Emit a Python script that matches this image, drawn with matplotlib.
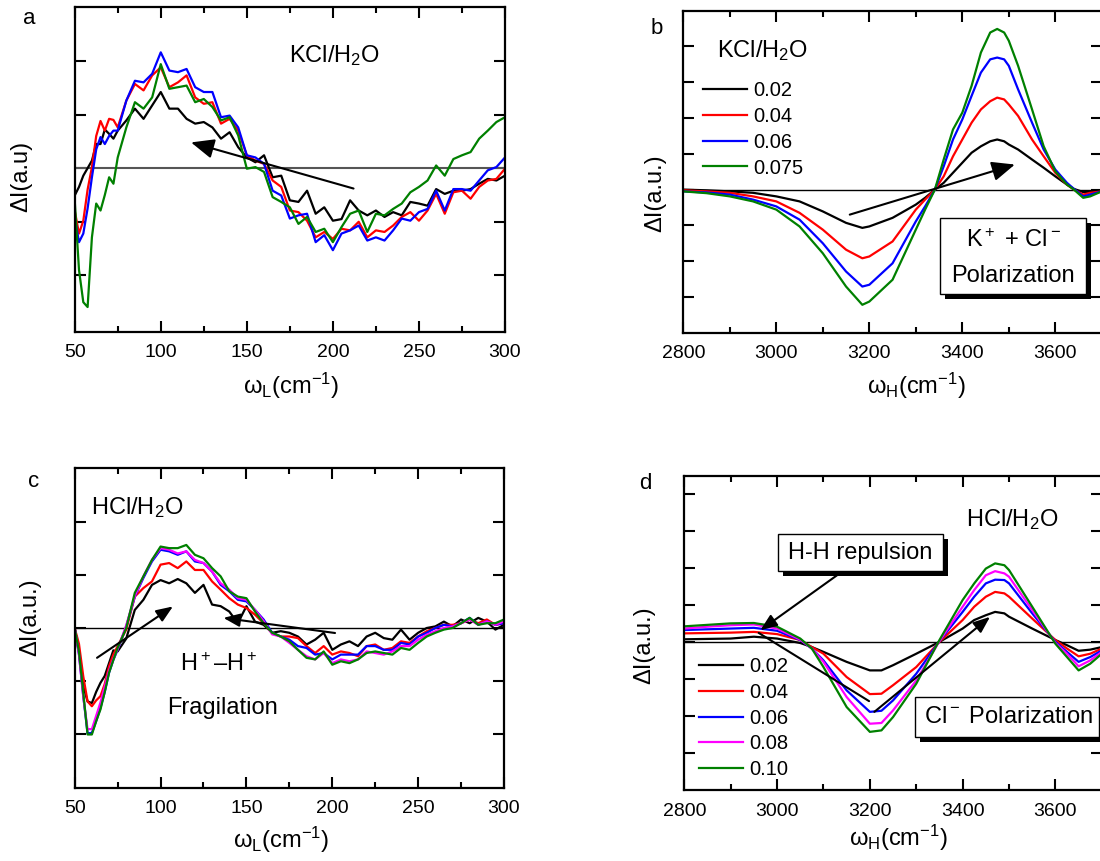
import numpy as np
import matplotlib.pyplot as plt
from matplotlib.patches import Rectangle

plt.rcParams['font.family'] = ['Liberation Sans', 'DejaVu Sans']
plt.rcParams['mathtext.fontset'] = 'custom'
plt.rcParams['mathtext.rm'] = 'Liberation Sans'
plt.rcParams['mathtext.it'] = 'Liberation Sans:italic'
plt.rcParams['mathtext.bf'] = 'Liberation Sans:bold'

# ---- data (arbitrary units = one y tick step) ----
x_low = [50, 52.5, 55, 57.5, 60, 62.5, 65, 67.5, 70, 72.5, 75,
         80, 85, 90, 95, 100, 105, 110, 115, 120, 125, 130, 135, 140, 145,
         150, 155, 160, 165, 170, 175, 180, 185, 190, 195, 200, 205, 210,
         215, 220, 225, 230, 235, 240, 245, 250, 255, 260, 265, 270, 275,
         280, 285, 290, 295, 300]

kcl_low_002 = [-0.51, -0.35, -0.14, 0.0, 0.14, 0.45, 0.45, 0.72, 0.64, 0.55, 0.70,
               0.89, 1.11, 0.92, 1.17, 1.42, 1.11, 1.11, 0.92, 0.83, 0.86, 0.76, 0.55, 0.67, 0.39,
               0.20, 0.11, 0.24, -0.17, -0.14,
               -0.60, -0.63, -0.42, -0.85, -0.73, -0.98, -0.95, -0.60, -0.79, -0.88, -0.79, -0.91,
               -0.82, -0.88, -0.63, -0.66, -0.70, -0.39, -0.48, -0.42, -0.42, -0.39, -0.29, -0.20,
               -0.23, -0.14]
kcl_low_004 = [-0.79, -1.22, -0.98, -0.40, 0.02, 0.60, 0.88, 0.70, 0.92, 0.90, 0.76,
               1.26, 1.57, 1.45, 1.73, 1.88, 1.51, 1.60, 1.73, 1.32, 1.20, 1.23, 0.83, 0.92, 0.70,
               0.24, 0.14, 0.08, -0.23, -0.35,
               -0.79, -0.82, -0.98, -1.29, -1.19, -1.32, -1.13, -1.16, -1.00, -1.29, -1.16, -1.19,
               -1.07, -0.91, -0.82, -0.98, -0.79, -0.48, -0.85, -0.45, -0.42, -0.57, -0.35, -0.23,
               -0.20, -0.01]
kcl_low_006 = [-0.91, -1.38, -1.22, -0.75, -0.17, 0.35, 0.58, 0.45, 0.60, 0.70, 0.70,
               1.26, 1.63, 1.60, 1.76, 2.16, 1.82, 1.79, 1.85, 1.51, 1.42, 1.42, 0.95, 0.98, 0.76,
               0.24, 0.20, 0.08, -0.42, -0.51,
               -0.94, -0.88, -0.85, -1.38, -1.25, -1.53, -1.22, -1.16, -1.07, -1.35, -1.29, -1.35,
               -1.16, -0.94, -0.98, -0.82, -0.76, -0.42, -0.79, -0.39, -0.39, -0.42, -0.23, -0.04,
               0.02, 0.20]
kcl_low_0075 = [-0.60, -1.90, -2.50, -2.59, -1.29, -0.66, -0.79, -0.50, -0.17, -0.29, 0.20,
                0.76, 1.23, 1.11, 1.32, 1.94, 1.48, 1.51, 1.54, 1.23, 1.29, 1.14, 0.89, 0.95, 0.61,
                -0.01, 0.02, -0.07, -0.54, -0.63,
                -0.73, -1.04, -0.91, -1.19, -1.13, -1.38, -1.10, -0.85, -0.79, -1.19, -0.85, -0.88,
                -0.76, -0.66, -0.45, -0.35, -0.23, 0.05, -0.14, 0.17, 0.24, 0.30, 0.55, 0.70,
                0.86, 0.95]

x_high_kcl = [2800, 2850, 2900, 2950, 3000, 3050, 3100, 3150, 3185, 3200, 3250, 3300,
              3320, 3341, 3360, 3380, 3400, 3420, 3440, 3460, 3475, 3490, 3500, 3520,
              3550, 3575, 3600, 3625, 3640, 3660, 3675, 3700]
kcl_high_002 = [0.00, -0.02, -0.05, -0.09, -0.19, -0.33, -0.61, -0.93, -1.07, -1.03, -0.79, -0.42,
                -0.23, 0.00, 0.19, 0.47, 0.75, 1.03, 1.21, 1.35, 1.40, 1.35, 1.26, 1.12,
                0.84, 0.61, 0.37, 0.14, 0.02, -0.07, -0.07, -0.02]
kcl_high_004 = [-0.02, -0.05, -0.09, -0.19, -0.33, -0.65, -1.12, -1.68, -1.92, -1.87, -1.45, -0.56,
                -0.28, 0.00, 0.37, 0.93, 1.40, 1.87, 2.24, 2.47, 2.57, 2.52, 2.38, 2.06,
                1.40, 0.93, 0.47, 0.14, 0.00, -0.14, -0.09, -0.05]
kcl_high_006 = [-0.05, -0.08, -0.14, -0.28, -0.47, -0.84, -1.50, -2.29, -2.71, -2.66, -2.06, -0.89,
                -0.47, 0.00, 0.65, 1.40, 1.96, 2.62, 3.27, 3.64, 3.69, 3.64, 3.46, 2.80,
                1.87, 1.12, 0.56, 0.19, 0.02, -0.19, -0.14, -0.05]
kcl_high_0075 = [-0.05, -0.10, -0.19, -0.33, -0.56, -1.03, -1.78, -2.71, -3.22, -3.13, -2.52, -1.12,
                 -0.56, 0.00, 0.84, 1.68, 2.15, 2.90, 3.83, 4.39, 4.49, 4.39, 4.16, 3.46,
                 2.24, 1.21, 0.51, 0.14, 0.00, -0.23, -0.19, -0.05]

hcl_low_002 = [0.0, -0.45, -1.09, -1.38, -1.41, -1.20, -1.03, -0.90, -0.66, -0.42, -0.44,
               -0.20, 0.34, 0.53, 0.81, 0.90, 0.84, 0.92, 0.84, 0.66, 0.81, 0.44, 0.41, 0.31, 0.09,
               0.41, 0.12, 0.06, -0.09, -0.06,
               -0.09, -0.16, -0.31, -0.22, -0.09, -0.41, -0.31, -0.25, -0.34, -0.16, -0.09, -0.19,
               -0.22, -0.03, -0.22, -0.09, 0.00, 0.03, 0.12, 0.03, 0.16, 0.09, 0.19, 0.12,
               -0.03, 0.06]
hcl_low_004 = [0.0, -0.30, -0.91, -1.38, -1.47, -1.36, -1.28, -1.05, -0.72, -0.50, -0.34,
               -0.03, 0.59, 0.75, 0.875, 1.19, 1.22, 1.125, 1.25, 1.09, 1.09, 0.875, 0.72, 0.56, 0.44,
               0.375, 0.25, 0.09, -0.09, -0.16,
               -0.16, -0.19, -0.34, -0.47, -0.34, -0.50, -0.44, -0.47, -0.53, -0.34, -0.31, -0.41,
               -0.375, -0.25, -0.28, -0.16, -0.06, 0.00, 0.06, 0.06, 0.09, 0.16, 0.09, 0.16,
               0.06, 0.09]
hcl_low_006 = [0.0, -0.50, -1.28, -1.98, -1.97, -1.75, -1.50, -1.20, -0.84, -0.60, -0.41,
               0.03, 0.59, 0.94, 1.25, 1.47, 1.44, 1.375, 1.44, 1.25, 1.22, 1.06, 0.81, 0.69, 0.53,
               0.50, 0.34, 0.16, -0.09, -0.16,
               -0.22, -0.34, -0.375, -0.50, -0.47, -0.59, -0.50, -0.50, -0.50, -0.34, -0.34, -0.41,
               -0.41, -0.28, -0.31, -0.16, -0.09, 0.00, 0.06, 0.03, 0.09, 0.19, 0.06, 0.125,
               0.06, 0.09]
hcl_low_008 = [0.0, -0.50, -1.30, -1.90, -1.90, -1.65, -1.40, -1.10, -0.80, -0.58, -0.40,
               0.05, 0.60, 0.97, 1.28, 1.50, 1.47, 1.40, 1.44, 1.28, 1.22, 1.06, 0.84, 0.72, 0.56,
               0.53, 0.34, 0.13, -0.12, -0.16,
               -0.28, -0.41, -0.53, -0.59, -0.47, -0.66, -0.59, -0.625, -0.59, -0.44, -0.47, -0.50,
               -0.44, -0.34, -0.34, -0.22, -0.125, -0.06, 0.00, 0.03, 0.09, 0.16, 0.06, 0.125,
               0.06, 0.125]
hcl_low_010 = [0.0, -0.45, -1.22, -2.00, -2.00, -1.75, -1.53, -1.20, -0.84, -0.60, -0.375,
               0.00, 0.66, 0.97, 1.28, 1.53, 1.50, 1.50, 1.56, 1.375, 1.31, 1.125, 0.97, 0.69, 0.59,
               0.56, 0.31, 0.09, -0.09, -0.16,
               -0.25, -0.41, -0.56, -0.59, -0.44, -0.69, -0.625, -0.66, -0.59, -0.47, -0.44, -0.47,
               -0.50, -0.375, -0.41, -0.28, -0.16, -0.09, -0.03, 0.00, 0.09, 0.19, 0.06, 0.09,
               0.09, 0.16]

x_high_hcl = [2800, 2850, 2900, 2950, 3000, 3050, 3075, 3100, 3150, 3200, 3225, 3250, 3300,
              3350, 3400, 3425, 3450, 3470, 3490, 3500, 3550, 3600, 3625, 3650, 3675, 3700]
hcl_high_002 = [0.07, 0.08, 0.09, 0.14, 0.09, -0.03, -0.14, -0.27, -0.54, -0.77, -0.77, -0.63, -0.32,
                0.00, 0.36, 0.59, 0.72, 0.81, 0.77, 0.68, 0.36, 0.05, -0.09, -0.24, -0.21, -0.14]
hcl_high_004 = [0.23, 0.24, 0.25, 0.27, 0.21, 0.05, -0.14, -0.32, -0.95, -1.41, -1.40, -1.17, -0.68,
                0.00, 0.59, 0.95, 1.22, 1.35, 1.31, 1.22, 0.63, 0.05, -0.18, -0.39, -0.32, -0.18]
hcl_high_006 = [0.32, 0.34, 0.36, 0.38, 0.30, 0.05, -0.18, -0.50, -1.31, -1.89, -1.86, -1.58, -0.86,
                0.02, 0.81, 1.22, 1.58, 1.68, 1.67, 1.58, 0.77, 0.00, -0.27, -0.54, -0.41, -0.23]
hcl_high_008 = [0.36, 0.41, 0.45, 0.47, 0.36, 0.06, -0.18, -0.54, -1.49, -2.21, -2.19, -1.85, -1.04,
                0.02, 0.95, 1.40, 1.80, 1.91, 1.85, 1.76, 0.86, -0.03, -0.32, -0.66, -0.50, -0.27]
hcl_high_010 = [0.42, 0.46, 0.50, 0.51, 0.41, 0.09, -0.18, -0.68, -1.76, -2.43, -2.39, -2.03, -1.13,
                0.05, 1.13, 1.58, 1.98, 2.12, 2.07, 1.94, 0.95, -0.05, -0.41, -0.77, -0.59, -0.32]

kcl_labels = ['0.02', '0.04', '0.06', '0.075']
hcl_labels = ['0.02', '0.04', '0.06', '0.08', '0.10']
colors = ['black', '#ff0000', '#0000ff', '#ff00ff', '#008000']
kcl_colors = ['black', '#ff0000', '#0000ff', '#008000']

# ---- layout, in pixels of the 1100x861 picture ----
W, H = 1100, 861


def fx(px):
    return px / W


def fy(py):
    return 1 - py / H


def add_ax(fig, l, r, t, b):
    return fig.add_axes([fx(l), fy(b), (r - l) / W, (b - t) / H])


def style(ax, xlim, xmaj, xmin, ylim, yt):
    ax.set_xlim(*xlim)
    ax.set_ylim(*ylim)
    ax.set_xticks(xmaj)
    ax.set_xticks(xmin, minor=True)
    ax.set_yticks(yt)
    ax.set_yticklabels([])
    ax.tick_params(which='both', direction='in', top=True, right=True,
                   width=1.5, labelsize=14, pad=9)
    ax.tick_params(which='major', length=8)
    ax.tick_params(which='minor', length=4.5)
    for s in ax.spines.values():
        s.set_linewidth(1.6)


def arrow(ax, tail, head, hl=0.6, hw=0.25, ms=20, style='-|>'):
    if style == '-':
        st = '-'
    else:
        st = f'-|>,head_length={hl},head_width={hw}'
    ax.annotate('', xy=head, xytext=tail, annotation_clip=False,
                arrowprops=dict(arrowstyle=st, color='black', lw=1.5,
                                mutation_scale=ms, shrinkA=0, shrinkB=0))


def shadow_box(fig, l, r, t, b, off=5):
    fig.add_artist(Rectangle((fx(l + off), fy(b + off)), (r - l) / W, (b - t) / H,
                             transform=fig.transFigure, facecolor='black', edgecolor='black', lw=0))
    fig.add_artist(Rectangle((fx(l), fy(b)), (r - l) / W, (b - t) / H,
                             transform=fig.transFigure, facecolor='white', edgecolor='black', lw=1))


fig = plt.figure(figsize=(11, 8.61), dpi=100)

xlab_low = 'ω$_{\\rm L}$(cm$^{-1}$)'
xlab_high = 'ω$_{\\rm H}$(cm$^{-1}$)'

# ---- a ----
ax = add_ax(fig, 74.7, 505, 7.3, 331.7)
ax.axhline(0, color='#555555', lw=1.5)
for ys, c in zip([kcl_low_002, kcl_low_004, kcl_low_006, kcl_low_0075], kcl_colors):
    ax.plot(x_low, ys, color=c, lw=1.6)
style(ax, (50, 300), [50, 100, 150, 200, 250, 300], [75, 125, 175, 225, 275],
      (-3.05, 3.0), [-2, -1, 0, 1, 2])
arrow(ax, (212, -0.38), (117.6, 0.48), hl=0.7, hw=0.3)
fig.text(fx(28.8), fy(19), 'a', fontsize=16, ha='center', va='center')
fig.text(fx(335), fy(61.7), 'KCl/H$_2$O', fontsize=17, ha='center', va='baseline')
fig.text(fx(21), fy(176), 'ΔI(a.u)', fontsize=17, rotation=90, ha='center', va='center')
fig.text(fx(291), fy(386), xlab_low, fontsize=17, ha='center', va='center')

# ---- b ----
ax = add_ax(fig, 683.3, 1101.8, 10.7, 332.7)
ax.axhline(0, color='black', lw=1)
for ys, c, lab in zip([kcl_high_002, kcl_high_004, kcl_high_006, kcl_high_0075], kcl_colors, kcl_labels):
    ax.plot(x_high_kcl, ys, color=c, lw=1.6, label=lab)
style(ax, (2800, 3700), [2800, 3000, 3200, 3400, 3600], [2900, 3100, 3300, 3500, 3700],
      (-4, 5), [-3, -2, -1, 0, 1, 2, 3, 4])
arrow(ax, (3158, -0.70), (3513, 0.70), hl=0.7, hw=0.3)
ax.legend(loc='upper left', bbox_to_anchor=(fx(702.7), fy(81)), bbox_transform=fig.transFigure,
          frameon=False, fontsize=14.5, handlelength=2.19, handletextpad=0.31,
          labelspacing=0.34, borderpad=0, borderaxespad=0)
fig.text(fx(657), fy(28.3), 'b', fontsize=16, ha='center', va='center')
fig.text(fx(762.5), fy(57.3), 'KCl/H$_2$O', fontsize=17, ha='center', va='baseline')
fig.text(fx(655), fy(193), 'ΔI(a.u.)', fontsize=17, rotation=90, ha='center', va='center')
fig.text(fx(916.5), fy(386), xlab_high, fontsize=17, ha='center', va='center')
shadow_box(fig, 940, 1085.7, 218, 294)
fig.text(fx(1013), fy(241), 'K$^+$ + Cl$^-$', fontsize=17, ha='center', va='center')
fig.text(fx(1013), fy(276), 'Polarization', fontsize=17, ha='center', va='center')

# ---- c ----
ax = add_ax(fig, 74.7, 504, 468.3, 787.7)
ax.axhline(0, color='black', lw=1)
for ys, c in zip([hcl_low_002, hcl_low_004, hcl_low_006, hcl_low_008, hcl_low_010], colors):
    ax.plot(x_low, ys, color=c, lw=1.6)
style(ax, (50, 300), [50, 100, 150, 200, 250, 300], [75, 125, 175, 225, 275],
      (-3, 3), [-2, -1, 0, 1, 2])
arrow(ax, (63.0, -0.56), (107.2, 0.405), hl=0.5, hw=0.2)
arrow(ax, (201.6, -0.094), (136.6, 0.19), hl=0.5, hw=0.2)
fig.text(fx(34), fy(481.7), 'c', fontsize=16, ha='center', va='center')
fig.text(fx(136.8), fy(514), 'HCl/H$_2$O', fontsize=17, ha='center', va='baseline')
fig.text(fx(219), fy(665), 'H$^+$–H$^+$', fontsize=17, ha='center', va='center')
fig.text(fx(222.7), fy(708.3), 'Fragilation', fontsize=17, ha='center', va='center')
fig.text(fx(30), fy(617), 'ΔI(a.u.)', fontsize=17, rotation=90, ha='center', va='center')
fig.text(fx(281), fy(840), xlab_low, fontsize=17, ha='center', va='center')

# ---- d ----
ax = add_ax(fig, 684.3, 1101.8, 476, 790)
ax.axhline(0, color='black', lw=1)
for ys, c, lab in zip([hcl_high_002, hcl_high_004, hcl_high_006, hcl_high_008, hcl_high_010],
                      colors, hcl_labels):
    ax.plot(x_high_hcl, ys, color=c, lw=1.6, label=lab)
style(ax, (2800, 3700), [2800, 3000, 3200, 3400, 3600], [2900, 3100, 3300, 3500, 3700],
      (-4, 4.48), [-3, -2, -1, 0, 1, 2, 3, 4])
arrow(ax, (3141.6, 1.91), (2964, 0.316), hl=0.5, hw=0.2)
arrow(ax, (2960.3, 0.243), (3198.3, -1.60), style='-')
arrow(ax, (3209.7, -1.89), (3459, 0.676), hl=0.5, hw=0.2)
ax.legend(loc='upper left', bbox_to_anchor=(fx(699), fy(657.5)), bbox_transform=fig.transFigure,
          frameon=False, fontsize=14.5, handlelength=2.18, handletextpad=0.31,
          labelspacing=0.33, borderpad=0, borderaxespad=0)
fig.text(fx(645.7), fy(483.3), 'd', fontsize=16, ha='center', va='center')
fig.text(fx(1012), fy(525.7), 'HCl/H$_2$O', fontsize=17, ha='center', va='baseline')
fig.text(fx(644.7), fy(645), 'ΔI(a.u.)', fontsize=17, rotation=90, ha='center', va='center')
fig.text(fx(898), fy(838), xlab_high, fontsize=17, ha='center', va='center')
shadow_box(fig, 778, 942.8, 534.3, 571, off=5)
fig.text(fx(860.4), fy(552.7), 'H-H repulsion', fontsize=17, ha='center', va='center')
shadow_box(fig, 914.7, 1099, 696.7, 736.7, off=5)
fig.text(fx(924.5), fy(716.7), 'Cl$^-$ Polarization', fontsize=17, ha='left', va='center')

fig.savefig('out.png', dpi=100)
